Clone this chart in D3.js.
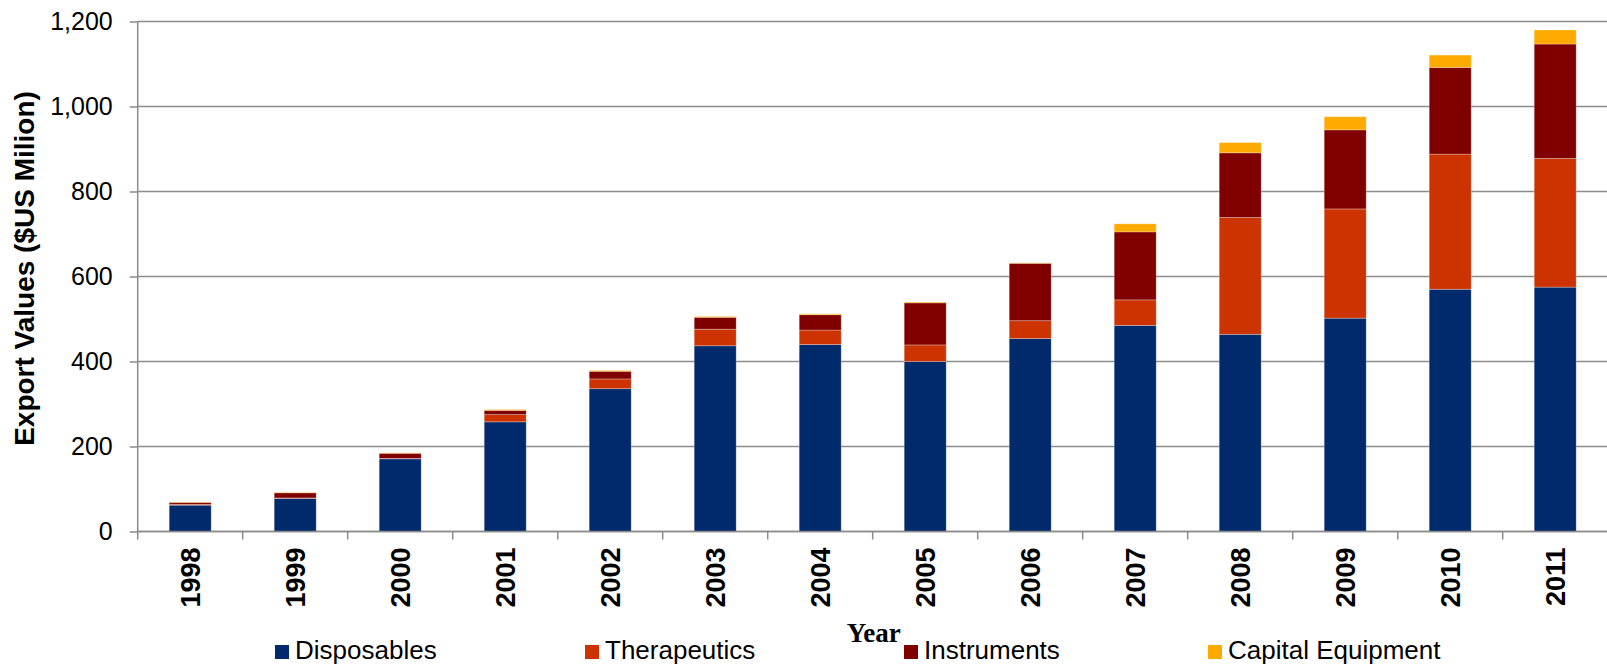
<!DOCTYPE html>
<html>
<head>
<meta charset="utf-8">
<script src="https://cdn.jsdelivr.net/npm/d3@7"></script>
<style>
  html, body { margin: 0; padding: 0; background: #ffffff; }
  svg { display: block; }
</style>
</head>
<body>
<svg id="chart" width="1607" height="664"></svg>
<script>
// Export values by product group, $US million
const years = ["1998","1999","2000","2001","2002","2003","2004","2005","2006","2007","2008","2009","2010","2011"];
const disposables = [62, 78, 171, 258, 336, 437, 440, 400, 454, 485, 464, 502, 570, 575];
const therapeutics = [2, 1, 1, 17, 23, 39, 34, 39, 42, 60, 275, 257, 318, 303];
const instruments = [4.5, 12, 12, 10, 18, 28, 36, 99, 135, 160, 152, 186, 204, 269];
const capitalEquipment = [1, 1, 1, 2, 2, 2, 2, 2, 1, 19, 24, 31, 29, 33];
const seriesNames = ["Disposables", "Therapeutics", "Instruments", "Capital Equipment"];
const yTicks = [0, 200, 400, 600, 800, 1000, 1200];

const colors = ["#002a6c", "#cc3300", "#800000", "#ffaa00"];
const sansFont = "'Liberation Sans', Arial, sans-serif";
const serifFont = "'Liberation Serif', 'Times New Roman', serif";

const svg = d3.select("#chart");
const plot = { left: 137.7, right: 1607.7, top: 21.5, bottom: 531.5 };

const rows = years.map((y, i) => ({
  year: y,
  Disposables: disposables[i],
  Therapeutics: therapeutics[i],
  Instruments: instruments[i],
  "Capital Equipment": capitalEquipment[i]
}));
const stacked = d3.stack().keys(seriesNames)(rows);

const x = d3.scaleBand()
  .domain(years)
  .range([plot.left, plot.right])
  .paddingInner(0.6)
  .paddingOuter(0.3);

const y = d3.scaleLinear()
  .domain([0, 1200])
  .range([plot.bottom, plot.top]);

// horizontal gridlines
svg.append("g")
  .selectAll("line")
  .data(yTicks)
  .join("line")
  .attr("x1", plot.left)
  .attr("x2", plot.right)
  .attr("y1", d => y(d))
  .attr("y2", d => y(d))
  .attr("stroke", "#8c8c8c")
  .attr("stroke-width", 1.5);

// stacked bars
svg.append("g")
  .selectAll("g")
  .data(stacked)
  .join("g")
  .attr("fill", (d, i) => colors[i])
  .selectAll("rect")
  .data(d => d)
  .join("rect")
  .attr("x", d => x(d.data.year))
  .attr("width", x.bandwidth())
  .attr("y", d => y(d[1]))
  .attr("height", d => y(d[0]) - y(d[1]))
  .attr("stroke", "rgba(255,255,255,0.35)")
  .attr("stroke-width", 0.8);

// y axis
const yAxis = svg.append("g")
  .attr("transform", `translate(${plot.left},0)`)
  .call(d3.axisLeft(y).tickValues(yTicks).tickSize(8).tickPadding(17).tickFormat(d3.format(",")));
yAxis.select(".domain").remove();
yAxis.append("line")
  .attr("x1", 0).attr("x2", 0)
  .attr("y1", plot.top).attr("y2", plot.bottom + 8)
  .attr("stroke", "#8c8c8c").attr("stroke-width", 1.5);
yAxis.selectAll(".tick line").attr("stroke", "#8c8c8c").attr("stroke-width", 1.5);
yAxis.selectAll(".tick text")
  .attr("font-family", sansFont)
  .attr("font-size", 25)
  .attr("fill", "#000");

// x axis: boundary ticks between categories
const xAxisG = svg.append("g");
xAxisG.append("line")
  .attr("x1", plot.left).attr("x2", plot.right)
  .attr("y1", plot.bottom).attr("y2", plot.bottom)
  .attr("stroke", "#8c8c8c").attr("stroke-width", 1.5);
const step = x.step();
xAxisG.selectAll("line.bt")
  .data(years.slice(1))
  .join("line")
  .attr("class", "bt")
  .attr("x1", d => x(d) - step * x.paddingInner() / 2)
  .attr("x2", d => x(d) - step * x.paddingInner() / 2)
  .attr("y1", plot.bottom).attr("y2", plot.bottom + 8)
  .attr("stroke", "#8c8c8c").attr("stroke-width", 1.5);

xAxisG.selectAll("text")
  .data(years)
  .join("text")
  .attr("transform", d => `translate(${x(d) + x.bandwidth() / 2 + 10},${plot.bottom + 16}) rotate(-90)`)
  .attr("text-anchor", "end")
  .attr("font-family", sansFont)
  .attr("font-weight", "bold")
  .attr("font-size", 27)
  .attr("fill", "#000")
  .text(d => d);

// axis titles
svg.append("text")
  .attr("transform", `translate(34,${(plot.top + plot.bottom) / 2 - 8}) rotate(-90)`)
  .attr("text-anchor", "middle")
  .attr("font-family", sansFont)
  .attr("font-weight", "bold")
  .attr("font-size", 28)
  .attr("fill", "#000")
  .text("Export Values ($US Milion)");

svg.append("text")
  .attr("x", (plot.left + plot.right) / 2 + 1)
  .attr("y", 641.5)
  .attr("text-anchor", "middle")
  .attr("font-family", serifFont)
  .attr("font-weight", "bold")
  .attr("font-size", 27)
  .attr("fill", "#000")
  .text("Year");

// legend
const legendX = [275, 585, 904, 1208];
const legend = svg.append("g")
  .selectAll("g")
  .data(seriesNames)
  .join("g")
  .attr("transform", (d, i) => `translate(${legendX[i]},645)`);
legend.append("rect")
  .attr("width", 14).attr("height", 14)
  .attr("fill", (d, i) => colors[i]);
legend.append("text")
  .attr("x", 20)
  .attr("y", 13.5)
  .attr("font-family", sansFont)
  .attr("font-size", 26)
  .attr("fill", "#000")
  .text(d => d);
</script>
</body>
</html>
